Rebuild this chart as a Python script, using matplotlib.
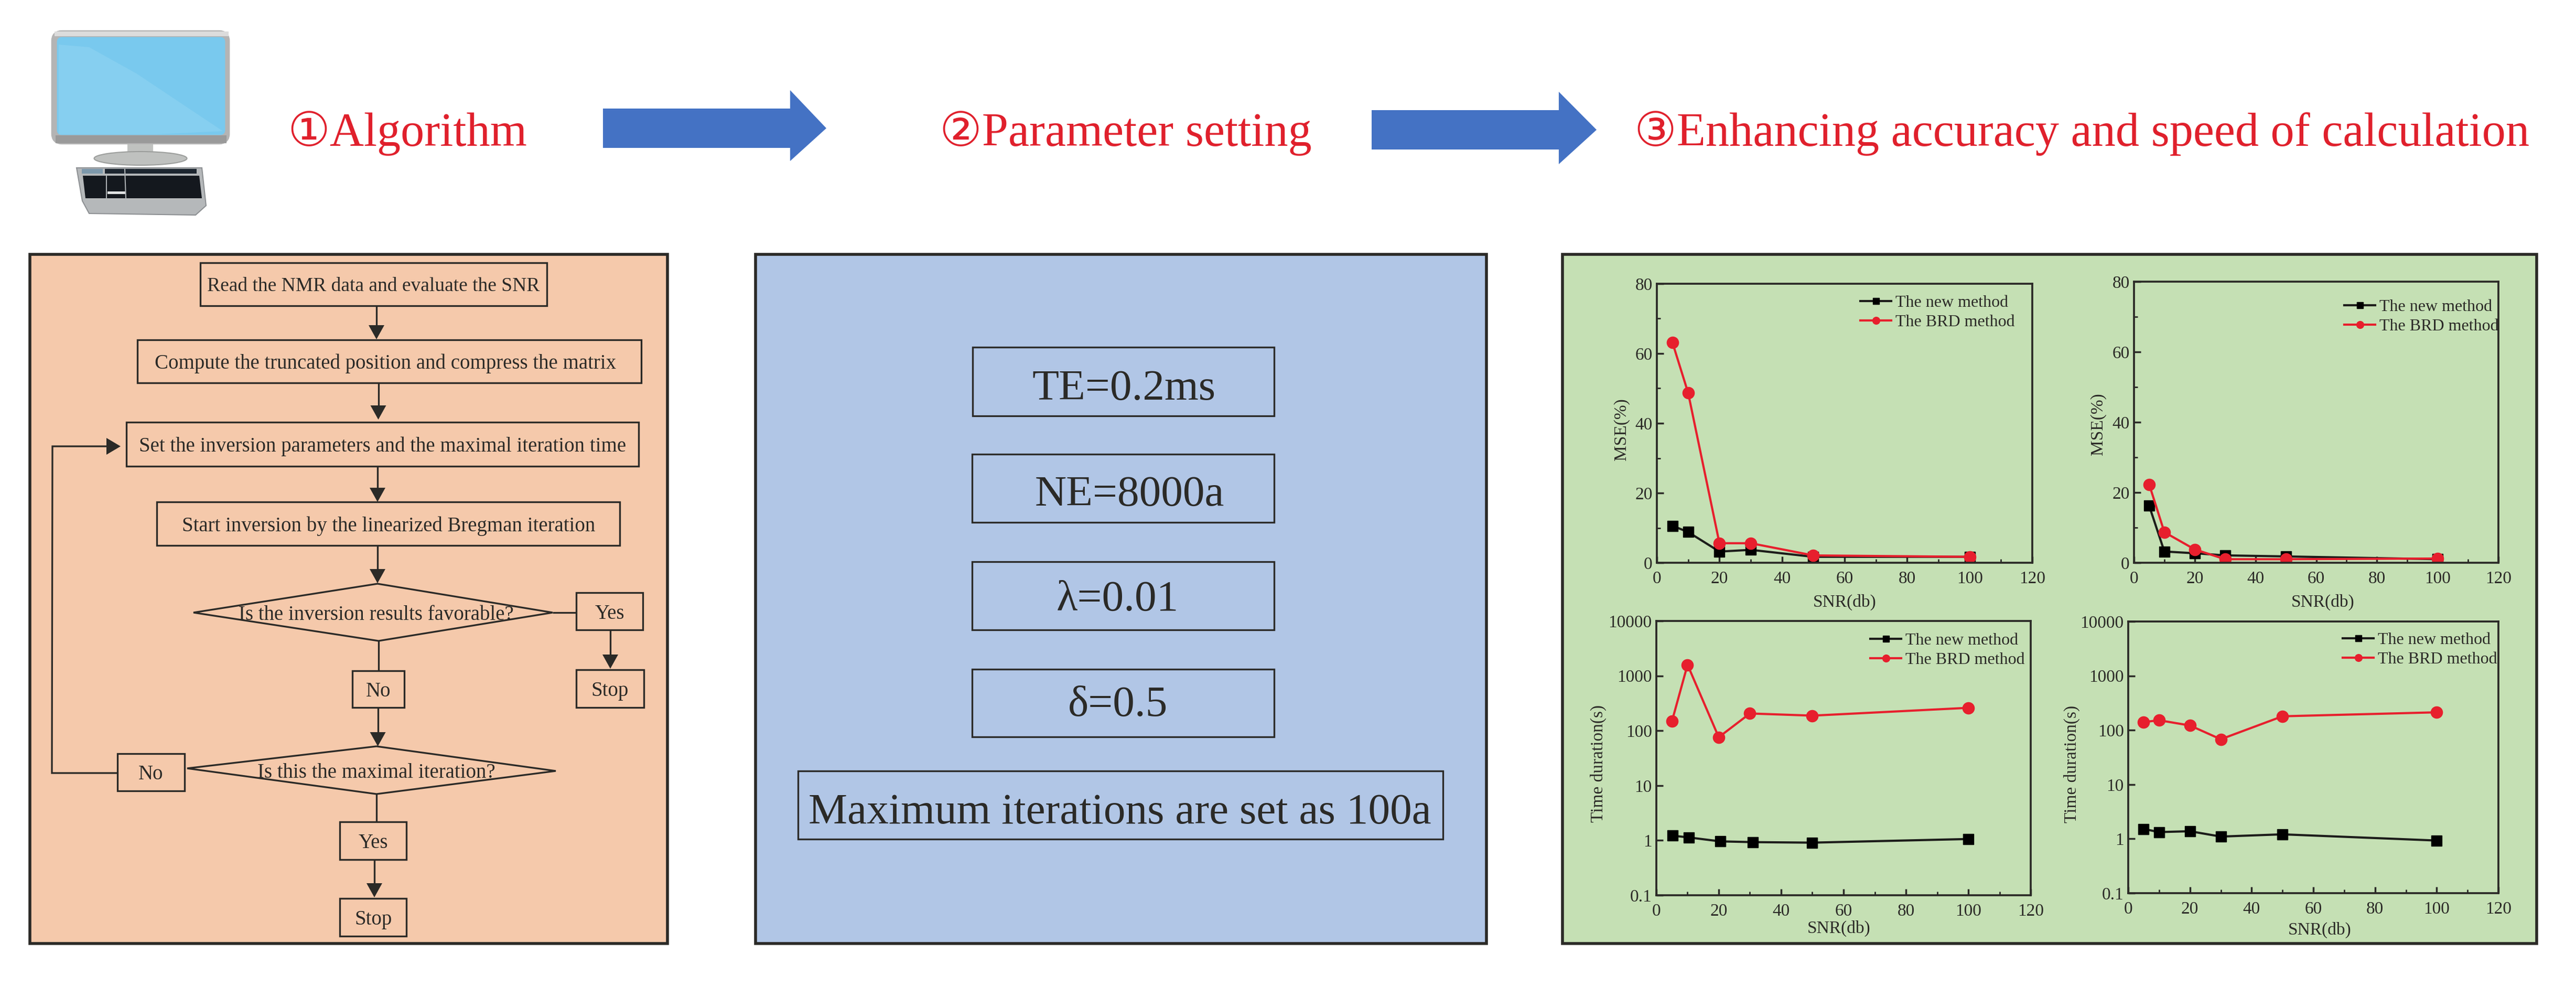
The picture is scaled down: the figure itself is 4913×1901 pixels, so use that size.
import matplotlib
matplotlib.use('Agg')
import matplotlib.pyplot as plt
from matplotlib.patches import Rectangle, Polygon, FancyBboxPatch, Ellipse
from matplotlib.ticker import NullLocator, FixedLocator

W, H = 4913, 1901
plt.rcParams['font.family'] = ['Liberation Serif', 'DejaVu Sans']

# chart data
snr = [5, 10, 20, 30, 50, 100]
mse1_new = [10.6, 8.8, 3.2, 3.7, 1.7, 1.7]
mse1_brd = [63.1, 48.7, 5.6, 5.6, 2.1, 1.7]
mse2_new = [16.2, 3.2, 2.7, 2.1, 1.8, 1.0]
mse2_brd = [22.3, 8.7, 3.8, 1.0, 1.0, 1.2]
time1_x_new = [5.2, 10.5, 20.5, 31, 50, 100]
time1_new = [1.22, 1.13, 0.96, 0.93, 0.91, 1.06]
time1_brd = [148, 1590, 76, 206, 188, 261]
time2_new = [1.52, 1.33, 1.38, 1.1, 1.21, 0.93]
time2_brd = [141, 152, 122, 68, 180, 213]

x_ticks = [0, 20, 40, 60, 80, 100, 120]
x_minor = [10, 30, 50, 70, 90, 110]
mse_ticks = [0, 20, 40, 60, 80]
mse_minor = [10, 30, 50, 70]
time_ticks = [0.1, 1, 10, 100, 1000, 10000]
time_labels = ['0.1', '1', '10', '100', '1000', '10000']
label_new = 'The new method'
label_brd = 'The BRD method'

DARK = '#2b2a27'
RED = '#e71f2d'
TITLE_RED = '#e0202c'

fig = plt.figure(figsize=(W / 100, H / 100), dpi=100, facecolor='white')
bg = fig.add_axes([0, 0, 1, 1])
bg.set_xlim(0, W)
bg.set_ylim(H, 0)
bg.axis('off')


def box(x0, y0, x1, y1, txt=None, fs=28, tx=None, ty=None, lw=2.4):
    bg.add_patch(Rectangle((x0, y0), x1 - x0, y1 - y0, fc='none', ec=DARK, lw=lw))
    if txt:
        tx = (x0 + x1) / 2 if tx is None else tx
        ty = (y0 + y1) / 2 if ty is None else ty
        bg.text(tx, ty, txt, fontsize=fs, color=DARK, ha='center', va='center_baseline')


def line(pts):
    xs, ys = zip(*pts)
    bg.plot(xs, ys, color=DARK, lw=2.4, solid_capstyle='butt', solid_joinstyle='miter')


def arrow(x, y0, y1):
    line([(x, y0), (x, y1 - 24)])
    bg.add_patch(Polygon([(x - 15, y1 - 27), (x + 15, y1 - 27), (x, y1)], fc=DARK, ec='none'))


# monitor icon
bg.add_patch(FancyBboxPatch((106, 66), 324, 201, boxstyle='round,pad=0,rounding_size=12',
                            fc='#b4b4b4', ec='#b4b4b4', lw=12))
bg.add_patch(Rectangle((104, 60), 332, 9, fc='#dcdcdc', ec='none'))
bg.add_patch(Rectangle((106, 258), 326, 15, fc='#9a9a9a', ec='none'))
bg.add_patch(FancyBboxPatch((110, 72), 318, 184, boxstyle='round,pad=0,rounding_size=8',
                            fc='#79c9ee', ec='#79c9ee', lw=2))
bg.add_patch(Polygon([(112, 85), (170, 90), (260, 140), (425, 250), (300, 256), (112, 256)],
                     fc='#86cff0', ec='none'))
bg.add_patch(Rectangle((243, 275), 49, 20, fc='#c0c2c0', ec='none'))
bg.add_patch(Ellipse((268, 302), 177, 26, fc='#bfc1bf', ec='#9b9d9b', lw=1.5))
bg.add_patch(Polygon([(146, 320), (385, 320), (393, 392), (373, 410), (170, 407), (157, 383)],
                     fc='#b5b8ba', ec='#8d9093', lw=1.5))
bg.add_patch(Polygon([(158, 335), (380, 335), (385, 378), (163, 378)], fc='#14181e', ec='none'))
bg.add_patch(Rectangle((200, 322), 175, 9, fc='#1d2630', ec='none'))
bg.add_patch(Rectangle((156, 322), 40, 9, fc='#7d98ab', ec='none'))
bg.add_patch(Rectangle((205, 365), 35, 5, fc='#dfe1e2', ec='none'))
bg.plot([203, 203], [335, 378], color='#aeb2b5', lw=1.5)
bg.plot([238, 240], [322, 378], color='#aeb2b5', lw=1.5)

# headline
bg.text(548, 278, '①Algorithm', fontsize=65, color=TITLE_RED, ha='left', va='baseline')
bg.text(1792, 278, '②Parameter setting', fontsize=65, color=TITLE_RED, ha='left', va='baseline')
bg.text(3117, 278, '③Enhancing accuracy and speed of calculation', fontsize=65,
        color=TITLE_RED, ha='left', va='baseline')
for xa, xh, xb, t, b, ht, hb in [(1150, 1507, 1576, 207, 282, 172, 307),
                                 (2616, 2973, 3045, 210, 285, 175, 313)]:
    bg.add_patch(Polygon([(xa, t), (xh, t), (xh, ht), (xb, (t + b) / 2), (xh, hb), (xh, b), (xa, b)],
                         fc='#4472c4', ec='none'))

# three panels
for x0, x1, c in [(57, 1273, '#f5c9ab'), (1441, 2835, '#b1c6e6'), (2980, 4838, '#c5e0b4')]:
    bg.add_patch(Rectangle((x0, 485), x1 - x0, 1314, fc=c, ec=DARK, lw=4, zorder=0.5))

# flow chart
box(382, 501, 1043, 583, 'Read the NMR data and evaluate the SNR', fs=27, tx=712)
box(262, 648, 1223, 730, 'Compute the truncated position and compress the matrix', tx=735)
box(241, 805, 1218, 889, 'Set the inversion parameters and the maximal iteration time', tx=730)
box(299, 957, 1182, 1040, 'Start inversion by the linearized Bregman iteration', tx=741)
bg.add_patch(Polygon([(369, 1168), (720, 1113), (1054, 1168), (722, 1222)], fc='none', ec=DARK, lw=2.4))
bg.text(717, 1168, 'Is the inversion results favorable?', fontsize=28, color=DARK, ha='center', va='center_baseline')
box(1099, 1130, 1226, 1201, 'Yes')
box(1099, 1277, 1228, 1349, 'Stop')
box(672, 1279, 771, 1349, 'No')
bg.add_patch(Polygon([(357, 1465), (718, 1423), (1060, 1470), (718, 1514)], fc='none', ec=DARK, lw=2.4))
bg.text(718, 1469, 'Is this the maximal iteration?', fontsize=28, color=DARK, ha='center', va='center_baseline')
box(224, 1437, 352, 1508, 'No')
box(648, 1567, 775, 1639, 'Yes', tx=712)
box(648, 1713, 775, 1785, 'Stop', tx=712)

arrow(718, 583, 647)
arrow(721.5, 730, 800)
arrow(720, 889, 957)
arrow(720, 1040, 1112)
line([(1054, 1168), (1099, 1168)])
arrow(1164, 1201, 1275)
line([(721.5, 1222), (721.5, 1279)])
arrow(720.6, 1349, 1423)
line([(718, 1514), (718, 1567)])
arrow(714, 1639, 1711)
line([(224, 1474), (99, 1474), (100, 851), (205, 851)])
bg.add_patch(Polygon([(203, 835), (203, 867), (230, 851)], fc=DARK, ec='none'))

# parameter boxes
box(1855, 662, 2430, 793, 'TE=0.2ms', fs=60, tx=2144, ty=733)
box(1854, 866, 2430, 996, 'NE=8000a', fs=60, tx=2154, ty=935)
box(1854, 1071, 2430, 1201, 'λ=0.01', fs=60, tx=2131, ty=1135)
box(1854, 1276, 2430, 1405, 'δ=0.5', fs=60, tx=2132, ty=1336)
box(1522, 1470, 2752, 1600, 'Maximum iterations are set as 100a', fs=60, tx=2136, ty=1541)


def small_plot(l, t, r, b, xn, yn, yb, ylabel, xl, xl_y, yl, yl_y, leg_x, leg_y, log=False):
    ax = fig.add_axes([l / W, 1 - b / H, (r - l) / W, (b - t) / H], facecolor='none')
    ax.plot(xn, yn, '-s', color='#1c1c1a', mfc='black', mec='black', lw=3, ms=15, label=label_new)
    ax.plot(snr, yb, '-o', color=RED, lw=3, ms=16, label=label_brd)
    ax.set_xlim(0, 120)
    ax.set_xticks(x_ticks)
    ax.xaxis.set_minor_locator(FixedLocator(x_minor))
    if log:
        ax.set_yscale('log')
        ax.set_ylim(0.1, 10000)
        ax.set_yticks(time_ticks, time_labels)
        ax.yaxis.set_minor_locator(NullLocator())
    else:
        ax.set_ylim(0, 80)
        ax.set_yticks(mse_ticks)
        ax.yaxis.set_minor_locator(FixedLocator(mse_minor))
    ax.tick_params(which='major', direction='in', length=9, width=2.5, labelsize=24,
                   colors=DARK, pad=6)
    ax.tick_params(axis='x', which='major', pad=11)
    ax.tick_params(which='minor', direction='in', length=5, width=2, colors=DARK)
    for s in ax.spines.values():
        s.set_linewidth(2.7)
        s.set_color(DARK)
    ax.set_xlabel('SNR(db)', fontsize=24, color=DARK, va='center')
    ax.set_ylabel(ylabel, fontsize=24, color=DARK, va='center')
    ax.xaxis.set_label_coords((xl - l) / (r - l), (b - xl_y) / (b - t))
    ax.yaxis.set_label_coords((yl - l) / (r - l), (b - yl_y) / (b - t))
    ax.legend(loc='upper left', bbox_to_anchor=((leg_x - l) / (r - l), (b - leg_y) / (b - t)),
              frameon=False, fontsize=23, borderpad=0, borderaxespad=0, labelspacing=0.22,
              handlelength=1.85, handletextpad=0.25, markerscale=0.62, labelcolor=DARK)
    return ax


small_plot(3160, 541, 3876, 1073, snr, mse1_new, mse1_brd, 'MSE(%)',
           3518, 1148, 3093, 819, 3548, 563)
small_plot(4070, 537, 4765, 1073, snr, mse2_new, mse2_brd, 'MSE(%)',
           4430, 1148, 4002, 809, 4471, 571)
small_plot(3159, 1184, 3873, 1707, time1_x_new, time1_new, time1_brd, 'Time duration(s)',
           3507, 1770, 3048, 1456, 3567, 1207, log=True)
small_plot(4059, 1185, 4765, 1703, snr, time2_new, time2_brd, 'Time duration(s)',
           4424, 1773, 3951, 1457, 4468, 1206, log=True)

fig.savefig('out.png', dpi=100)
